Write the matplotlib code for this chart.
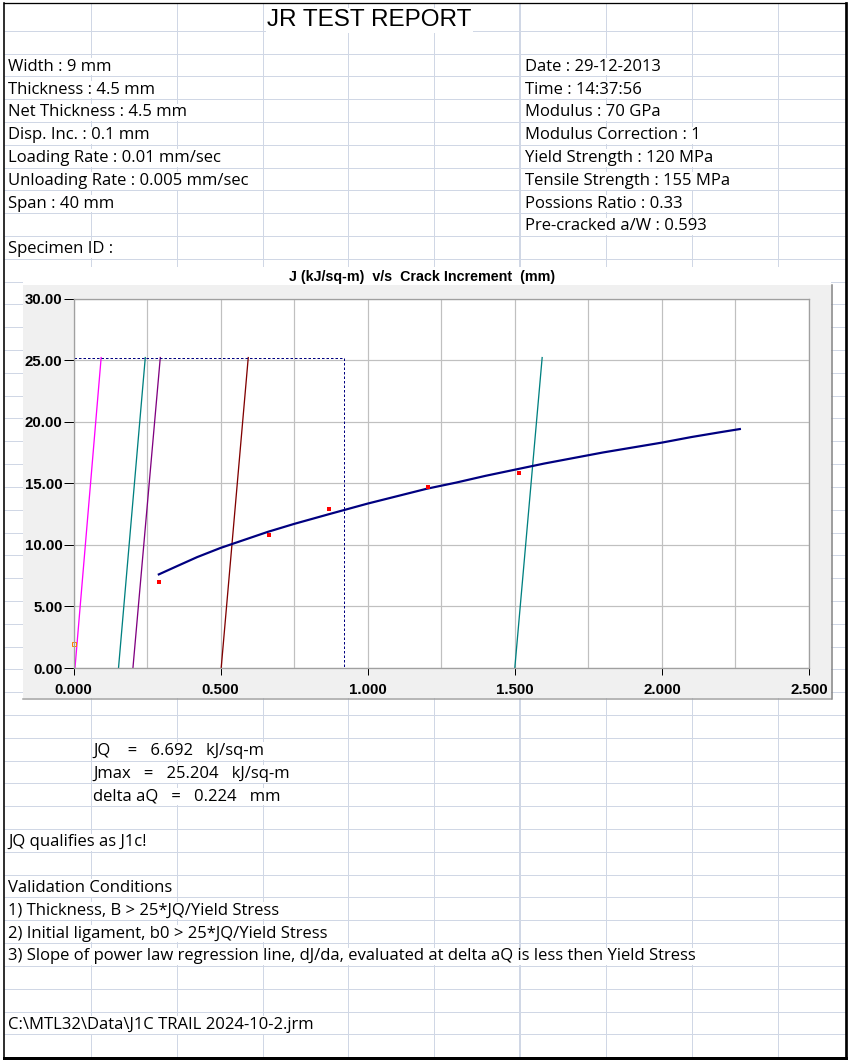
import numpy as np
import matplotlib
matplotlib.use("Agg")
from matplotlib import pyplot as plt
from matplotlib.patches import Rectangle

# J-R curve data
crack_growth = [0.29, 0.35, 0.42, 0.50, 0.58, 0.66, 0.75, 0.87, 1.00, 1.10, 1.20,
                1.30, 1.40, 1.50, 1.60, 1.70, 1.80, 1.90, 2.00, 2.10, 2.20, 2.265]
j_fit = [7.6, 8.25, 9.0, 9.75, 10.4, 11.05, 11.7, 12.5, 13.35, 13.95, 14.55,
         15.05, 15.6, 16.1, 16.6, 17.05, 17.5, 17.9, 18.3, 18.75, 19.15, 19.4]

test_da = [0.29, 0.665, 0.868, 1.205, 1.515]
test_j = [6.95, 10.8, 12.9, 14.7, 15.85]

first_da = [0.003]
first_j = [1.95]

# offset / exclusion lines: bottom and top crack increment
line_start = [0.005, 0.153, 0.202, 0.502, 1.500]
line_end = [0.094, 0.244, 0.295, 0.594, 1.593]
line_colors = ["#ff00ff", "#008080", "#800080", "#800000", "#008080"]

j_max = 25.204
da_limit = 0.92

x_ticks = [0.0, 0.5, 1.0, 1.5, 2.0, 2.5]
y_ticks = [0, 5, 10, 15, 20, 25, 30]

left_info = ["Width : 9 mm", "Thickness : 4.5 mm", "Net Thickness : 4.5 mm",
             "Disp. Inc. : 0.1 mm", "Loading Rate : 0.01 mm/sec",
             "Unloading Rate : 0.005 mm/sec", "Span : 40 mm"]
right_info = ["Date : 29-12-2013", "Time : 14:37:56", "Modulus : 70 GPa",
              "Modulus Correction : 1", "Yield Strength : 120 MPa",
              "Tensile Strength : 155 MPa", "Possions Ratio : 0.33",
              "Pre-cracked a/W : 0.593"]
results = ["JQ    =   6.692   kJ/sq-m", "Jmax   =   25.204   kJ/sq-m",
           "delta aQ   =   0.224   mm"]
conditions = ["Validation Conditions",
              "1) Thickness, B > 25*JQ/Yield Stress",
              "2) Initial ligament, b0 > 25*JQ/Yield Stress",
              "3) Slope of power law regression line, dJ/da, evaluated at delta aQ is less then Yield Stress"]

W, H = 851, 1062
PX = 0.72  # one pixel in points at 100 dpi

fig = plt.figure(figsize=(W / 100, H / 100), dpi=100)
bg = fig.add_axes([0, 0, 1, 1])
bg.set_xlim(0, W)
bg.set_ylim(H, 0)
bg.axis("off")

# spreadsheet grid
grid_col = "#d0d7e5"
row0, row_h = 30.7, 22.81
rows = [row0 + row_h * k for k in range(45)]
cols = [90.7 + 85.9 * k for k in range(9)]
bg.hlines(rows, 4, 846, color=grid_col, lw=PX, zorder=1)
for c in cols:
    bg.vlines(c, 3, 1058, color=grid_col, lw=2 * PX if abs(c - 520) < 2 else PX, zorder=1)

# sheet border
bg.plot([4, 4], [3, 1058], color="black", lw=1.6 * PX, zorder=6)
bg.plot([4, 846], [3, 3], color="black", lw=1.3 * PX, zorder=6)
bg.plot([846, 846], [3, 1058], color="black", lw=2.7 * PX, zorder=6)
bg.plot([4, 846], [1057.5, 1057.5], color="black", lw=3 * PX, zorder=6)

cell_font = ["Open Sans", "DejaVu Sans"]
cell_size = 12


def cell(x, row, s, **kw):
    y = row0 + row_h * row - 5.5
    bg.text(x, y, s, fontsize=cell_size, family=cell_font, va="baseline", ha="left",
            zorder=3, bbox=dict(facecolor="white", edgecolor="none", pad=0.5), **kw)


bg.text(267, 26.5, "JR TEST REPORT", fontsize=17.5, family="Liberation Sans",
        va="baseline", ha="left", zorder=3,
        bbox=dict(facecolor="white", edgecolor="none", pad=1))

for i, s in enumerate(left_info):
    cell(8, 2 + i, s)
for i, s in enumerate(right_info):
    cell(525, 2 + i, s)
cell(8, 10, "Specimen ID :")
for i, s in enumerate(results):
    cell(93, 32 + i, s)
cell(8, 36, "JQ qualifies as J1c!")
for i, s in enumerate(conditions):
    cell(8, 38 + i, s)
cell(8, 44, r"C:\MTL32\Data\J1C TRAIL 2024-10-2.jrm")

# chart object background
bg.add_patch(Rectangle((23, 267), 808, 18, facecolor="white", edgecolor="none", zorder=4))
bg.add_patch(Rectangle((23, 285), 808, 413, facecolor="#f0f0f0", edgecolor="none", zorder=4))
bg.plot([23, 831], [698.5, 698.5], color="#a0a0a0", lw=1.5 * PX, zorder=5)
bg.plot([831.5, 831.5], [285, 698.5], color="#808080", lw=1.5 * PX, zorder=5)
bg.text(422, 277, "J (kJ/sq-m)  v/s  Crack Increment  (mm)", fontsize=10.3,
        family="Liberation Sans", fontweight="bold", ha="center", va="center", zorder=5)

# plot area
x0, x1, y0, y1 = 73.5, 809, 298.5, 668
ax = fig.add_axes([x0 / W, 1 - y1 / H, (x1 - x0) / W, (y1 - y0) / H], zorder=5)
ax.set_facecolor("white")
ax.set_xlim(0, 2.5)
ax.set_ylim(0, 30)
ax.set_xticks(x_ticks)
ax.set_yticks(y_ticks)
ax.set_xticks(np.arange(0, 2.51, 0.25), minor=True)
ax.set_xticklabels(["%.3f" % v for v in x_ticks])
ax.set_yticklabels(["%.2f" % v for v in y_ticks])
ax.grid(True, which="both", axis="x", color="#c0c0c0", lw=1.2 * PX)
ax.grid(True, which="major", axis="y", color="#c0c0c0", lw=1.2 * PX)
ax.tick_params(axis="x", which="minor", length=0)
ax.tick_params(axis="x", which="major", direction="out", length=5, width=PX, pad=6,
               color="black")
ax.tick_params(axis="y", direction="out", length=7, width=PX, pad=1, color="black")
for lab in ax.get_xticklabels() + ax.get_yticklabels():
    lab.set_family("Liberation Sans")
    lab.set_fontweight("bold")
    lab.set_fontsize(10.8)
for sp in ax.spines.values():
    sp.set_color("#a0a0a0")
    sp.set_linewidth(1.3 * PX)
ax.set_axisbelow(True)

for xa, xb, c in zip(line_start, line_end, line_colors):
    ax.plot([xa, xb], [0, j_max], color=c, lw=1.3 * PX)

ax.plot([0, da_limit, da_limit], [j_max, j_max, 0], color="#000080", lw=PX,
        linestyle=(0, (2.5, 2)))
ax.plot(crack_growth, j_fit, color="#000080", lw=2.2 * PX)
ax.plot(test_da, test_j, "s", color="#ff0000", ms=3.2, mew=0)
ax.plot(first_da, first_j, "s", mfc="none", mec="#ff8000", ms=3.2, mew=PX,
        clip_on=False)

fig.savefig("out.png", dpi=100)
